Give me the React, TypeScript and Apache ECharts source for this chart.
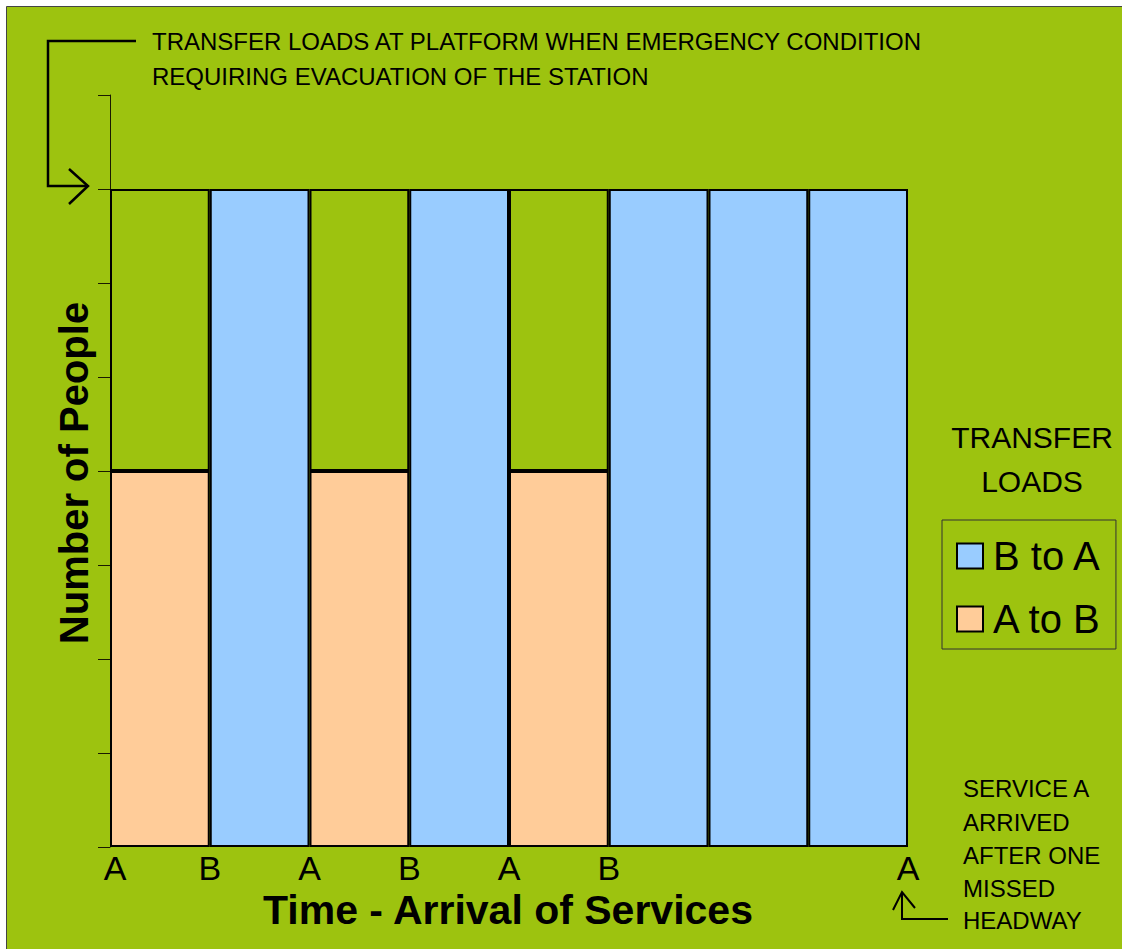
import React, { useEffect, useRef } from "react";
import * as echarts from "echarts";

const categories = ["1", "2", "3", "4", "5", "6", "7", "8"];
const aToB = [4, "-", 4, "-", 4, "-", "-", "-"];
const bToA = ["-", 7, "-", 7, "-", 7, 7, 7];
const emptySpace = [3, "-", 3, "-", 3, "-", "-", "-"];
const xBoundaryLabels = ["A", "B", "A", "B", "A", "B", "", "", "A"];
const FONT = "'Liberation Sans', Arial, sans-serif";

export default function App() {
  const ref = useRef<HTMLDivElement>(null);
  useEffect(() => {
    if (!ref.current) return;
    const chart = echarts.init(ref.current, null, { renderer: "svg" });
    const barStyle = { borderColor: "#000", borderWidth: 2 };
    chart.setOption({
      animation: false,
      backgroundColor: "#ffffff",
      grid: { left: 110, right: 214, top: 95, bottom: 102 },
      xAxis: [
        {
          type: "category",
          data: categories,
          boundaryGap: true,
          axisLine: { show: false },
          axisTick: { show: false },
          axisLabel: { show: false },
        },
        {
          type: "value",
          min: 0,
          max: 8,
          interval: 1,
          position: "bottom",
          axisLine: { show: false },
          axisTick: { show: false },
          splitLine: { show: false },
          axisLabel: {
            margin: 4,
            fontSize: 34,
            fontFamily: FONT,
            color: "#000",
            formatter: (v: number) => {
              const s = xBoundaryLabels[Math.round(v)] || "";
              if (Math.round(v) === 0) return "{f|" + s + "}";
              return s;
            },
            rich: { f: { fontSize: 34, fontFamily: FONT, color: "#000", padding: [0, 0, 0, 10] } },
          },
        },
      ],
      yAxis: {
        type: "value",
        min: 0,
        max: 8,
        interval: 1,
        axisLine: { show: true, lineStyle: { color: "#1a1a00", width: 1 } },
        axisTick: { show: true, length: 12, lineStyle: { color: "#1a1a00", width: 1 } },
        axisLabel: { show: false },
        splitLine: { show: false },
      },
      legend: {
        data: ["B to A", "A to B"],
        orient: "vertical",
        left: 942,
        top: 520,
        padding: [16, 14, 10, 14],
        itemGap: 23,
        itemWidth: 26,
        itemHeight: 25,
        icon: "rect",
        borderColor: "#333",
        borderWidth: 1,
        itemStyle: { borderColor: "#000", borderWidth: 2 },
        textStyle: { fontSize: 40, lineHeight: 40, fontFamily: FONT, color: "#000", padding: [0, 0, 0, 5] },
      },
      series: [
        {
          name: "A to B",
          type: "bar",
          stack: "s",
          barWidth: "100%",
          data: aToB,
          itemStyle: { color: "#FFCC99", ...barStyle },
        },
        {
          name: "B to A",
          type: "bar",
          stack: "s",
          barWidth: "100%",
          data: bToA,
          itemStyle: { color: "#99CCFF", ...barStyle },
        },
        {
          name: "space",
          type: "bar",
          stack: "s",
          barWidth: "100%",
          data: emptySpace,
          itemStyle: { color: "rgba(0,0,0,0)", ...barStyle },
        },
      ],
      graphic: [
        {
          type: "rect",
          z: -100,
          silent: true,
          shape: { x: 6.5, y: 6.5, width: 1200, height: 1200 },
          style: { fill: "#9DC30F", stroke: "#444", lineWidth: 1 },
        },
        {
          type: "polyline",
          z: 100,
          shape: { points: [[136, 41], [48, 41], [48, 186], [88, 186]] },
          style: { stroke: "#000", lineWidth: 2.5, fill: null },
        },
        {
          type: "polyline",
          z: 100,
          shape: { points: [[69, 169], [88, 186], [69, 204]] },
          style: { stroke: "#000", lineWidth: 2.5, fill: null },
        },
        {
          type: "polyline",
          z: 100,
          shape: { points: [[948, 919], [902, 919], [902, 892]] },
          style: { stroke: "#000", lineWidth: 2, fill: null },
        },
        {
          type: "polyline",
          z: 100,
          shape: { points: [[893, 910], [902, 892], [915, 908]] },
          style: { stroke: "#000", lineWidth: 2, fill: null },
        },
        {
          type: "text",
          z: 100,
          x: 152,
          y: 41,
          style: { text: "TRANSFER LOADS AT PLATFORM WHEN EMERGENCY CONDITION", font: "24px " + FONT, fill: "#000", textVerticalAlign: "middle" },
        },
        {
          type: "text",
          z: 100,
          x: 152,
          y: 76,
          style: { text: "REQUIRING EVACUATION OF THE STATION", font: "24px " + FONT, fill: "#000", textVerticalAlign: "middle" },
        },
        {
          type: "text",
          z: 100,
          x: 1032,
          y: 437,
          style: { text: "TRANSFER", font: "30px " + FONT, fill: "#000", textAlign: "center", textVerticalAlign: "middle" },
        },
        {
          type: "text",
          z: 100,
          x: 1032,
          y: 481,
          style: { text: "LOADS", font: "30px " + FONT, fill: "#000", textAlign: "center", textVerticalAlign: "middle" },
        },
        ...["SERVICE A", "ARRIVED", "AFTER ONE", "MISSED", "HEADWAY"].map((t, i) => ({
          type: "text",
          z: 100,
          x: 963,
          y: [788, 822, 855, 888, 920][i],
          style: { text: t, font: "24px " + FONT, fill: "#000", textVerticalAlign: "middle" },
        })),
        {
          type: "text",
          z: 100,
          x: 508,
          y: 910,
          style: { text: "Time - Arrival of Services", font: "bold 41px " + FONT, fill: "#000", textAlign: "center", textVerticalAlign: "middle" },
        },
        {
          type: "text",
          z: 100,
          x: 74,
          y: 473,
          rotation: Math.PI / 2,
          style: { text: "Number of People", font: "bold 40px " + FONT, fill: "#000", textAlign: "center", textVerticalAlign: "middle" },
        },
      ],
    });
    return () => chart.dispose();
  }, []);
  return <div ref={ref} style={{ position: "absolute", left: 0, top: 0, width: 1122, height: 949 }} />;
}
